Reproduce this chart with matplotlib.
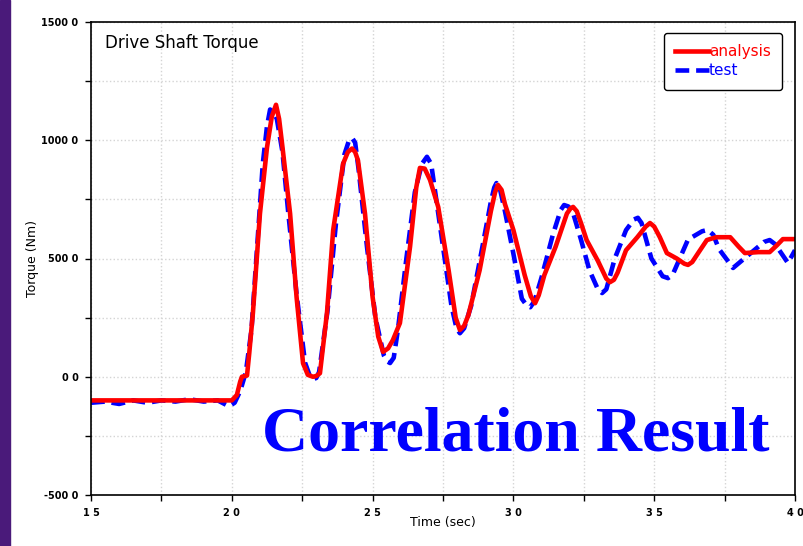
import matplotlib.pyplot as plt
from matplotlib.patches import Rectangle
from matplotlib.ticker import MultipleLocator

# analysis curve (red, solid)
t_analysis = [1.50, 2.00, 2.018, 2.030, 2.036, 2.054, 2.062, 2.075, 2.10, 2.125, 2.142, 2.157,
              2.168, 2.18, 2.207, 2.23, 2.253, 2.270, 2.288, 2.300, 2.313, 2.338, 2.36,
              2.395, 2.412, 2.427, 2.438, 2.448, 2.473, 2.50, 2.520, 2.537, 2.555, 2.572,
              2.597, 2.633, 2.655, 2.668, 2.685, 2.704, 2.733, 2.77, 2.795, 2.81, 2.825,
              2.84, 2.88, 2.92, 2.935, 2.945, 2.958, 2.97, 3.00, 3.04, 3.062, 3.077, 3.09,
              3.11, 3.15, 3.19, 3.203, 3.212, 3.225, 3.24, 3.26, 3.30, 3.330, 3.343, 3.357,
              3.37, 3.40, 3.44, 3.47, 3.485, 3.50, 3.52, 3.545, 3.58, 3.607, 3.62, 3.635,
              3.66, 3.687, 3.72, 3.77, 3.80, 3.822, 3.87, 3.91, 3.935, 3.957, 4.00]
v_analysis = [-100, -100, -77, -20, 0, 5, 100, 270, 690, 970, 1100, 1150,
              1090, 970, 690, 337, 57, 8, 0, 3, 15, 270, 620,
              900, 950, 965, 950, 915, 690, 337, 170, 105, 120, 155,
              227, 550, 800, 883, 880, 832, 718, 450, 250, 198, 215,
              260, 450, 700, 780, 811, 790, 730, 620, 430, 340, 311, 345,
              430, 550, 690, 712, 718, 700, 650, 578, 490, 415, 400, 410,
              440, 535, 590, 635, 650, 635, 590, 523, 500, 478, 473, 485,
              530, 578, 590, 590, 550, 523, 527, 527, 555, 582, 582]

# test curve (blue, dashed)
t_test = [1.50, 1.55, 1.60, 1.65, 1.70, 1.75, 1.80, 1.85, 1.90, 1.95, 1.99, 2.01, 2.03,
          2.05, 2.07, 2.09, 2.11, 2.125, 2.136, 2.148, 2.16, 2.18, 2.20, 2.23, 2.26,
          2.278, 2.29, 2.30, 2.31, 2.34, 2.37, 2.40, 2.415, 2.427, 2.438, 2.45, 2.48,
          2.51, 2.54, 2.552, 2.562, 2.575, 2.59, 2.62, 2.65, 2.675, 2.693, 2.708, 2.72,
          2.75, 2.78, 2.798, 2.81, 2.825, 2.85, 2.89, 2.92, 2.932, 2.94, 2.953, 2.97,
          3.00, 3.03, 3.048, 3.06, 3.075, 3.10, 3.14, 3.168, 3.18, 3.195, 3.21, 3.24,
          3.27, 3.30, 3.315, 3.33, 3.36, 3.40, 3.428, 3.442, 3.455, 3.49, 3.53, 3.549,
          3.565, 3.62, 3.67, 3.69, 3.71, 3.73, 3.78, 3.84, 3.89, 3.91, 3.93, 3.975, 4.00]
v_test = [-110, -105, -115, -100, -110, -100, -105, -95, -105, -100, -125, -110, -60,
          20, 200, 550, 900, 1060, 1130, 1120, 1090, 950, 700, 350, 60,
          0, -10, -5, 20, 280, 650, 940, 995, 1010, 990, 880, 550,
          250, 90, 65, 58, 80, 200, 500, 780, 900, 930, 900, 800,
          550, 300, 205, 184, 205, 300, 550, 740, 800, 819, 790, 700,
          520, 330, 300, 294, 320, 420, 600, 705, 726, 720, 700, 580,
          450, 370, 354, 370, 500, 620, 665, 672, 650, 500, 425, 417,
          430, 580, 615, 621, 600, 540, 460, 520, 570, 578, 560, 481, 535]

x_ticks = [1.5, 2.0, 2.5, 3.0, 3.5, 4.0]
x_labels = ['1 5', '2 0', '2 5', '3 0', '3 5', '4 0']
y_ticks = [-500, 0, 500, 1000, 1500]
y_labels = ['-500 0', '0 0', '500 0', '1000 0', '1500 0']

fig = plt.figure(figsize=(8.04, 5.46), dpi=100)
fig.patches.append(Rectangle((0, 0), 10 / 804, 1, transform=fig.transFigure,
                             color='#4a1a7a', zorder=0))

ax = fig.add_axes([91 / 804, 51 / 546, 704 / 804, 473 / 546])
ax.set_xlim(1.5, 4.0)
ax.set_ylim(-500, 1500)

ax.set_xticks(x_ticks)
ax.set_xticklabels(x_labels, fontsize=7, fontweight='bold')
ax.set_yticks(y_ticks)
ax.set_yticklabels(y_labels, fontsize=7, fontweight='bold')
ax.xaxis.set_minor_locator(MultipleLocator(0.25))
ax.yaxis.set_minor_locator(MultipleLocator(250))
ax.tick_params(which='both', direction='out', length=4, width=1, pad=5)
ax.grid(which='both', color='#d4d4d4', linestyle=':', linewidth=1)
ax.set_axisbelow(True)
for s in ax.spines.values():
    s.set_linewidth(1.2)

ax.plot(t_test, v_test, color='#0000ff', linestyle=(0, (3, 1.5)), linewidth=3.3, label='test')
ax.plot(t_analysis, v_analysis, color='#ff0000', linewidth=3.3, label='analysis')

handles, labels = ax.get_legend_handles_labels()
leg = ax.legend(handles[::-1], labels[::-1], loc='upper right',
                bbox_to_anchor=(0.9815, 0.977), borderaxespad=0, fontsize=11,
                labelcolor='linecolor', handlelength=2.2, handletextpad=0.0,
                borderpad=0.75, labelspacing=0.25, fancybox=True, framealpha=1)
leg.get_frame().set_edgecolor('black')
leg.get_frame().set_linewidth(1)

ax.text(0.02, 0.955, 'Drive Shaft Torque', transform=ax.transAxes, fontsize=12,
        va='center', ha='left')
ax.text(0.603, 0.125, 'Correlation Result', transform=ax.transAxes,
        fontsize=46, fontweight='bold', family='Liberation Serif', color='#0000ff',
        ha='center', va='center')

ax.set_xlabel('Time (sec)', fontsize=9, labelpad=-1)
ax.set_ylabel('Torque (Nm)', fontsize=9, labelpad=2)

fig.savefig('out.png', dpi=100)
